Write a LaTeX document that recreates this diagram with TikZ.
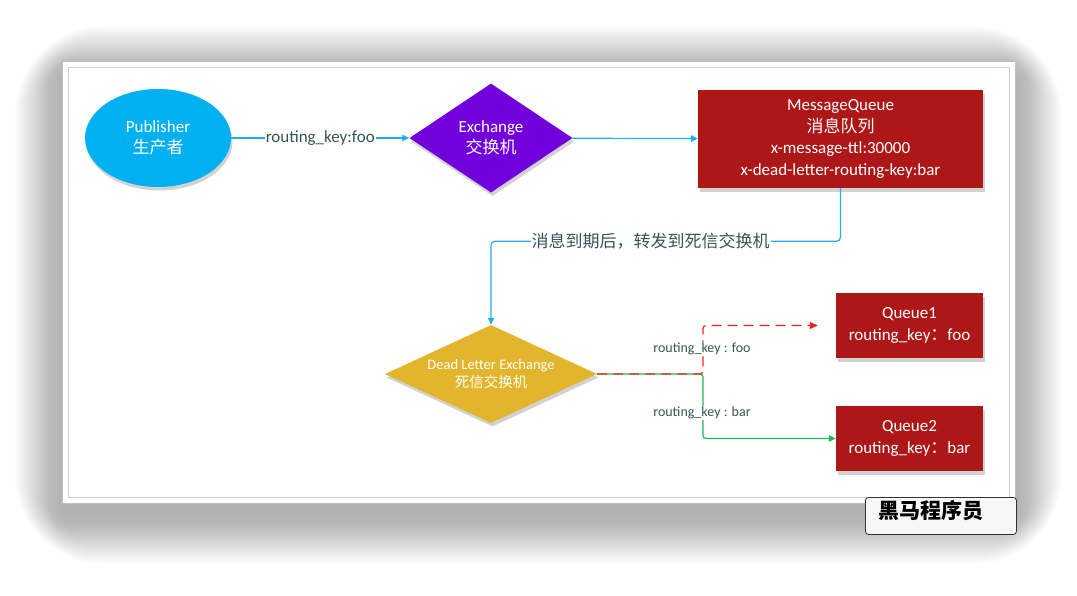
\documentclass[tikz,border=0pt]{standalone}
\usepackage{fontspec}
\setmainfont{Carlito}
\newfontfamily\cjk{Noto Sans CJK SC}
\usetikzlibrary{shapes.geometric,arrows.meta,shadows}
\definecolor{pubblue}{HTML}{00B0F0}
\definecolor{exviolet}{HTML}{7100DD}
\definecolor{mqred}{HTML}{AD1717}
\definecolor{dlxgold}{HTML}{E3B52C}
\definecolor{linkblue}{HTML}{1CB1EC}
\definecolor{lbl}{HTML}{365656}
\definecolor{rdash}{HTML}{FF1E1E}
\definecolor{grn}{HTML}{1EB85A}
\tikzset{
  shapebox/.style={text=white, align=center, inner sep=0pt,
    drop shadow={shadow xshift=1.5pt, shadow yshift=-3.5pt, opacity=0.35}},
  mainfont/.style={font=\fontsize{17}{21.5}\selectfont},
  smallfont/.style={font=\fontsize{14}{17}\selectfont},
  conn/.style={linkblue, line width=1.2pt, -{Triangle[length=7pt,width=6.5pt]}},
  lab/.style={text=lbl, fill=white, inner sep=1pt},
}
\begin{document}
\begin{tikzpicture}[x=1pt,y=-1pt]
\useasboundingbox (0,0) rectangle (1077,595);
% soft outer shadow
\foreach \i in {1,...,45}{
  \fill[black,opacity=0.008,rounded corners={\i*2pt}]
    ({62-\i*1.05},{61-\i*1.1+14}) rectangle ({1015+\i*1.05},{503+\i*1.1+12});
}
% frame
\fill[white] (62,61) rectangle (1015,503);
\draw[black!25, line width=0.8pt] (62,61) rectangle (1015,503);
\draw[black!18, line width=0.8pt] (68,67) rectangle (1009,497);

% nodes
\node[shapebox, mainfont, ellipse, fill=pubblue, minimum width=146pt, minimum height=98pt]
  (pub) at (158,138) {Publisher\\{\cjk 生产者}};
\node[shapebox, mainfont, diamond, shape aspect=1.5, fill=exviolet, minimum width=163pt, minimum height=109pt]
  (ex) at (491,138) {Exchange\\{\cjk 交换机}};
\node[shapebox, mainfont, rectangle, fill=mqred, minimum width=285pt, minimum height=98pt]
  (mq) at (840.5,139) {MessageQueue\\{\cjk 消息队列}\\x-message-ttl:30000\\x-dead-letter-routing-key:bar};
\node[shapebox, diamond, shape aspect=2.16, fill=dlxgold, minimum width=212pt, minimum height=98pt,
  font=\fontsize{14.5}{18}\selectfont]
  (dlx) at (491,374) {Dead Letter Exchange\\{\cjk 死信交换机}};
\node[shapebox, mainfont, rectangle, fill=mqred, minimum width=147pt, minimum height=65pt]
  (q1) at (909.5,325.5) {Queue1\\routing\_key{\cjk ：}foo};
\node[shapebox, mainfont, rectangle, fill=mqred, minimum width=147pt, minimum height=65pt]
  (q2) at (909.5,438.5) {Queue2\\routing\_key{\cjk ：}bar};

% connectors
\draw[conn] (pub) -- node[lab, mainfont, pos=0.5] (l1) {routing\_key:foo} (ex);
\draw[conn] (ex) -- (mq);
\draw[conn, rounded corners=4pt] (mq.south) -- ++(0,53) -| (dlx.north);
\node[lab, font=\cjk\fontsize{17}{19}\selectfont] (l2) at (650.5,241) {消息到期后，转发到死信交换机};

\coordinate (j) at (703,374);
\draw[grn, line width=1.2pt, rounded corners=3pt, -{Triangle[length=7pt,width=6.5pt]}]
  (dlx.east) -- (j) |- (q2.west);
\draw[rdash, line width=1.2pt, dash pattern=on 10pt off 6pt, rounded corners=3pt,
  shorten >=18pt, -{Triangle[length=8pt,width=7pt]}]
  (dlx.east) -- (j) |- (q1.west);
\node[lab, smallfont] (l3) at (702,349) {routing\_key : foo};
\node[lab, smallfont] (l4) at (702,413) {routing\_key : bar};

% watermark
\node[draw=black!80, rounded corners=3pt, fill=black!3, line width=0.8pt,
  minimum width=151pt, minimum height=37pt, anchor=north west, inner sep=0pt]
  (wm) at (865,497) {};
\node[anchor=west, inner sep=0pt, font=\cjk\bfseries\fontsize{21}{22}\selectfont]
  (wmt) at (878,511) {黑马程序员};
\end{tikzpicture}
\end{document}
